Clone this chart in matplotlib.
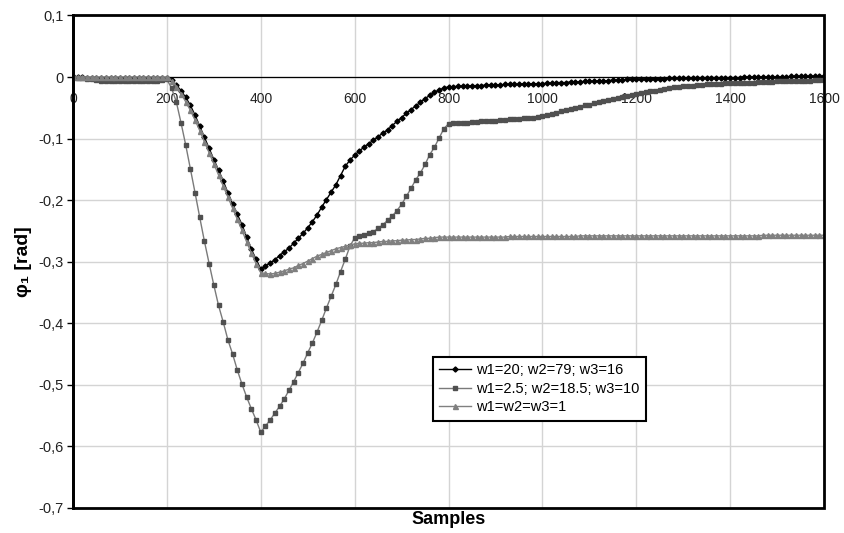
import matplotlib
matplotlib.use('Agg')
import matplotlib.pyplot as plt
from matplotlib.patches import Rectangle

plt.rcParams['font.family'] = ['Liberation Sans', 'DejaVu Sans']

# samples (one point every 10 samples)
samples = list(range(0, 1601, 10))

# w1=20; w2=79; w3=16
phi_a = [0, 0, 0, -0.001, -0.001, -0.001, -0.001, -0.001, -0.001, -0.001,
         -0.001, -0.001, -0.001, -0.001, -0.001, -0.001, -0.001, -0.001, -0.001, -0.001,
         -0.001,
         -0.005, -0.013, -0.022, -0.033, -0.046, -0.062, -0.08, -0.098, -0.116, -0.134,
         -0.151, -0.169, -0.188, -0.206, -0.223, -0.24, -0.26, -0.28, -0.296, -0.312,
         -0.307, -0.302, -0.297, -0.29, -0.284, -0.278, -0.27, -0.262, -0.254, -0.245,
         -0.235, -0.224, -0.211, -0.199, -0.187, -0.175, -0.16, -0.145, -0.135, -0.127,
         -0.12, -0.114, -0.108, -0.103, -0.097, -0.091, -0.086, -0.079, -0.072, -0.066,
         -0.059, -0.053, -0.047, -0.041, -0.035, -0.03, -0.025, -0.021, -0.018, -0.016,
         -0.016, -0.015, -0.015, -0.015, -0.014, -0.014, -0.014, -0.013, -0.013, -0.013,
         -0.013, -0.012, -0.012, -0.012, -0.012, -0.011, -0.011, -0.011, -0.011, -0.011,
         -0.010, -0.010, -0.009, -0.009, -0.009, -0.008, -0.008, -0.008, -0.007, -0.007,
         -0.007, -0.006, -0.006, -0.006, -0.005, -0.005, -0.005, -0.004, -0.004, -0.004,
         -0.004, -0.003, -0.003, -0.003, -0.003, -0.003, -0.002, -0.002, -0.002, -0.002,
         -0.002, -0.002, -0.002, -0.001, -0.001, -0.001, -0.001, -0.001, -0.001, -0.001,
         -0.001, -0.001, 0, 0, 0, 0, 0, 0, 0, 0,
         0, 0, 0.001, 0.001, 0.001, 0.001, 0.001, 0.001, 0.001, 0.001]

# w1=2.5; w2=18.5; w3=10
phi_b = [0, -0.001, -0.002, -0.003, -0.004, -0.005, -0.006, -0.006, -0.007, -0.007,
         -0.007, -0.007, -0.007, -0.007, -0.007, -0.007, -0.007, -0.006, -0.006, -0.005,
         -0.004,
         -0.018, -0.04, -0.074, -0.11, -0.149, -0.188, -0.228, -0.267, -0.303, -0.338,
         -0.371, -0.398, -0.427, -0.45, -0.476, -0.499, -0.52, -0.539, -0.557, -0.577,
         -0.567, -0.557, -0.546, -0.535, -0.523, -0.509, -0.495, -0.48, -0.465, -0.448,
         -0.432, -0.414, -0.395, -0.375, -0.356, -0.337, -0.316, -0.296, -0.275, -0.261,
         -0.258, -0.256, -0.254, -0.251, -0.246, -0.24, -0.233, -0.226, -0.217, -0.207,
         -0.194, -0.181, -0.167, -0.156, -0.142, -0.126, -0.114, -0.099, -0.084, -0.076,
         -0.075, -0.075, -0.074, -0.074, -0.073, -0.073, -0.072, -0.072, -0.071, -0.071,
         -0.070, -0.070, -0.069, -0.068, -0.068, -0.067, -0.066, -0.066, -0.065, -0.064,
         -0.062, -0.06, -0.058, -0.056, -0.054, -0.052, -0.05, -0.048, -0.046, -0.045,
         -0.043, -0.041, -0.039, -0.037, -0.036, -0.034, -0.032, -0.031, -0.029, -0.028,
         -0.026, -0.025, -0.023, -0.022, -0.021, -0.019, -0.018, -0.017, -0.016, -0.015,
         -0.014, -0.014, -0.013, -0.013, -0.012, -0.012, -0.011, -0.011, -0.010, -0.010,
         -0.010, -0.009, -0.009, -0.009, -0.009, -0.008, -0.008, -0.008, -0.008, -0.007,
         -0.007, -0.007, -0.006, -0.006, -0.006, -0.006, -0.006, -0.005, -0.005, -0.005]

# w1=w2=w3=1
phi_c = [0, 0, 0, 0, 0, 0, 0, 0, 0, 0,
         0, 0, 0, 0, 0, 0, 0, 0, 0, 0,
         0,
         -0.006, -0.016, -0.027, -0.04, -0.054, -0.07, -0.087, -0.105, -0.123, -0.141,
         -0.159, -0.177, -0.195, -0.213, -0.231, -0.249, -0.268, -0.286, -0.303, -0.318,
         -0.319, -0.32, -0.319, -0.317, -0.315, -0.312, -0.31, -0.306, -0.303, -0.299,
         -0.295, -0.291, -0.288, -0.285, -0.282, -0.279, -0.277, -0.275, -0.273, -0.271,
         -0.27, -0.27, -0.269, -0.269, -0.268, -0.267, -0.267, -0.266, -0.266, -0.265,
         -0.265, -0.264, -0.264, -0.263, -0.262, -0.262, -0.261, -0.26, -0.26, -0.26,
         -0.26, -0.26, -0.26, -0.26, -0.26, -0.26, -0.26, -0.26, -0.26, -0.26,
         -0.26, -0.26, -0.259, -0.259, -0.259, -0.259, -0.259, -0.259, -0.259, -0.259,
         -0.259, -0.259, -0.259, -0.259, -0.259, -0.259, -0.259, -0.258, -0.258, -0.258,
         -0.258, -0.258, -0.258, -0.258, -0.258, -0.258, -0.258, -0.258, -0.258, -0.258,
         -0.258, -0.258, -0.258, -0.258, -0.258, -0.258, -0.258, -0.258, -0.258, -0.258,
         -0.258, -0.258, -0.258, -0.258, -0.258, -0.258, -0.258, -0.258, -0.258, -0.258,
         -0.258, -0.258, -0.258, -0.258, -0.258, -0.258, -0.257, -0.257, -0.257, -0.257,
         -0.257, -0.257, -0.257, -0.257, -0.257, -0.257, -0.257, -0.257, -0.257, -0.257]

labels = ['w1=20; w2=79; w3=16', 'w1=2.5; w2=18.5; w3=10', 'w1=w2=w3=1']
x_ticks = [0, 200, 400, 600, 800, 1000, 1200, 1400, 1600]
y_ticks = [0.1, 0, -0.1, -0.2, -0.3, -0.4, -0.5, -0.6, -0.7]
y_ticklabels = ['0,1', '0', '-0,1', '-0,2', '-0,3', '-0,4', '-0,5', '-0,6', '-0,7']

fig = plt.figure(figsize=(8.45, 5.33), dpi=100)
ax = fig.add_axes([0.0864, 0.047, 0.8888, 0.924])

ax.plot(samples, phi_a, color='black', lw=1, marker='D', ms=2.6,
        label=labels[0], zorder=3)
ax.plot(samples, phi_b, color='#7a7a7a', lw=1, marker='s', ms=3.4,
        mfc='#505050', mec='#505050', label=labels[1], zorder=4)
ax.plot(samples, phi_c, color='#808080', lw=1, marker='^', ms=3.6,
        mfc='#808080', mec='#808080', label=labels[2], zorder=5)

ax.set_xlim(0, 1600)
ax.set_ylim(-0.7, 0.1)
ax.set_xticks(x_ticks)
ax.set_yticks(y_ticks)
ax.set_yticklabels(y_ticklabels)
ax.grid(True, color='#d4d4d4', lw=1)
ax.set_axisbelow(True)

# x axis crosses at 0, frame around plot area
ax.spines['bottom'].set_position(('data', 0))
ax.spines['bottom'].set_linewidth(0.9)
ax.spines['bottom'].set_zorder(2)
ax.spines['top'].set_visible(False)
ax.spines['right'].set_visible(False)
ax.spines['left'].set_linewidth(2)
ax.add_patch(Rectangle((0, 0), 1, 1, transform=ax.transAxes, fill=False,
                       ec='black', lw=2, clip_on=False, zorder=6))

ax.tick_params(axis='x', length=0, pad=11, labelsize=10, labelcolor='#222222')
ax.tick_params(axis='y', length=4, width=1, direction='out', pad=3,
               labelsize=10.5, labelcolor='#222222')

ax.set_xlabel('Samples', fontsize=13, fontweight='bold', va='top')
ax.xaxis.set_label_coords(0.5, -0.006)
ax.set_ylabel('φ₁ [rad]', fontsize=14, fontweight='bold',
              family=['Liberation Sans', 'DejaVu Sans'], labelpad=4)

leg = ax.legend(loc='lower left', bbox_to_anchor=(0.479, 0.177), fontsize=10.5,
                fancybox=False, framealpha=1, edgecolor='black',
                handlelength=2.2, handletextpad=0.3, borderpad=0.45,
                labelspacing=0.3, borderaxespad=0)
leg.get_frame().set_linewidth(1.5)
leg.set_zorder(7)

fig.savefig('out.png', dpi=100)
